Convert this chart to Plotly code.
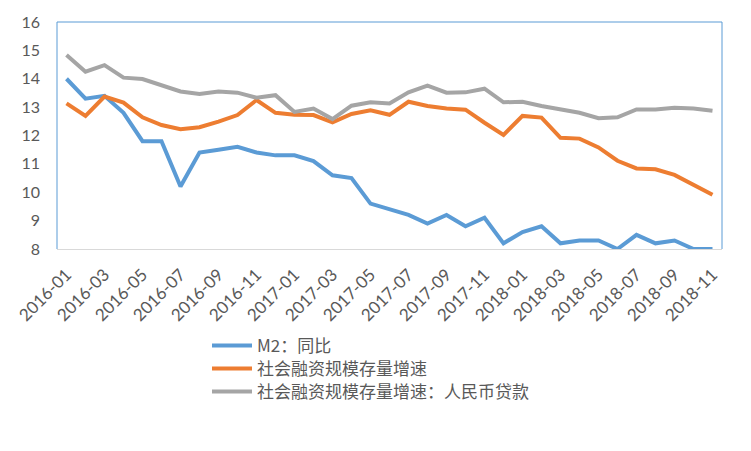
import plotly.graph_objects as go

months = [f"{y}-{m:02d}" for y in (2016, 2017, 2018) for m in range(1, 13)][:35]
tick_labels = months[::2]

m2_yoy = [14.0, 13.3, 13.4, 12.8, 11.8, 11.8, 10.2, 11.4, 11.5, 11.6, 11.4, 11.3,
          11.3, 11.1, 10.6, 10.5, 9.6, 9.4, 9.2, 8.9, 9.2, 8.8, 9.1, 8.2,
          8.6, 8.8, 8.2, 8.3, 8.3, 8.0, 8.5, 8.2, 8.3, 8.0, 8.0]

tsf_growth = [13.13, 12.69, 13.37, 13.16, 12.64, 12.37, 12.22, 12.29, 12.49, 12.72, 13.25, 12.80,
              12.73, 12.72, 12.46, 12.76, 12.89, 12.73, 13.19, 13.04, 12.95, 12.91, 12.45, 12.02,
              12.69, 12.63, 11.92, 11.89, 11.58, 11.11, 10.84, 10.81, 10.61, 10.26, 9.91]

tsf_loans = [14.84, 14.25, 14.48, 14.04, 13.99, 13.78, 13.55, 13.46, 13.55, 13.51, 13.33, 13.42,
             12.83, 12.95, 12.58, 13.05, 13.17, 13.13, 13.52, 13.76, 13.51, 13.52, 13.65, 13.17,
             13.19, 13.04, 12.92, 12.80, 12.61, 12.64, 12.92, 12.92, 12.98, 12.95, 12.87]

names = ["M2：同比", "社会融资规模存量增速", "社会融资规模存量增速：人民币贷款"]
colors = ["#5B9BD5", "#ED7D31", "#A5A5A5"]
series = [m2_yoy, tsf_growth, tsf_loans]
legend_ids = ["legend", "legend2", "legend3"]

# page body has an 8px margin: figure coords = window coords - 8
OFF = 8
PL, PR, PT, PB = 57 - OFF, 722 - OFF, 22 - OFF, 249 - OFF
W, H = 735, 435

fig = go.Figure()
for name, vals, col, lg in zip(names, series, colors, legend_ids):
    fig.add_trace(go.Scatter(x=months, y=vals, mode="lines", name=name,
                             line=dict(color=col, width=4), legend=lg))

tick_font = dict(family="Lato, 'Noto Sans CJK SC', sans-serif", size=16, color="#595959")
xtick_font = dict(family="Lato, 'Noto Sans CJK SC', sans-serif", size=17, color="#595959")
legend_font = dict(family="'Noto Sans CJK SC', sans-serif", size=17, color="#595959")

pw, ph = PR - PL, PB - PT
legend_centers = [346, 369, 392]
leg_layout = {}
for lg, yc in zip(legend_ids, legend_centers):
    leg_layout[lg] = dict(
        x=(212 - OFF - 5 - PL) / pw, y=(PB - (yc - OFF)) / ph,
        xanchor="left", yanchor="middle",
        font=legend_font, bgcolor="rgba(0,0,0,0)", itemwidth=40,
    )

fig.update_layout(
    width=W, height=H,
    margin=dict(l=PL, r=W - PR, t=PT, b=H - PB, autoexpand=False),
    paper_bgcolor="white", plot_bgcolor="white",
    showlegend=True,
    xaxis=dict(type="category", tickmode="array", tickvals=tick_labels, ticktext=tick_labels,
               tickangle=-45, tickfont=xtick_font, showgrid=False,
               showline=True, linecolor="#D9D9D9", linewidth=1, ticks="",
               ticklabelstandoff=8,
               zeroline=False, range=[-0.5, len(months) - 0.5]),
    yaxis=dict(range=[8, 16], dtick=1, tickfont=tick_font, showgrid=False,
               zeroline=False, ticks="", ticklabelstandoff=16,
               showline=False),
    shapes=[dict(type="path", xref="paper", yref="paper",
                 path="M0,0 L0,1 L1,1 L1,0",
                 line=dict(color="#5B9BD5", width=1), layer="above")],
    **leg_layout,
)

fig.write_html("out.html")
